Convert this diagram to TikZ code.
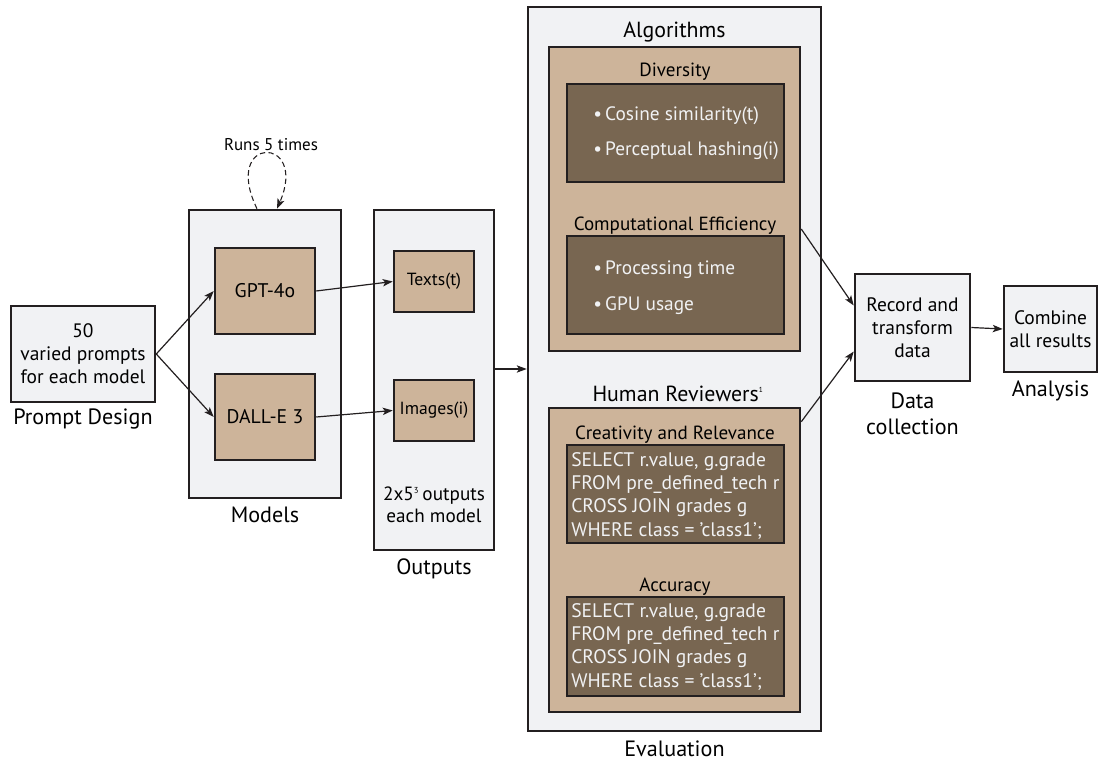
\documentclass[tikz,border=0pt]{standalone}
\usepackage{fontspec}
\setmainfont{PT Sans}
\usepackage{tikz}
\usetikzlibrary{shapes,arrows,arrows.meta,calc,positioning}
\definecolor{paneback}{HTML}{F1F2F4}
\definecolor{tanfill}{HTML}{CDB49A}
\definecolor{darkfill}{HTML}{786651}
\definecolor{inkline}{HTML}{231F20}
\newcommand{\bodyfont}{\fontsize{14.6}{17.25}\selectfont}
\newcommand{\capfont}{\fontsize{16.6}{19.5}\selectfont}
\newcommand{\headfont}{\fontsize{16.4}{18}\selectfont}
\newcommand{\subfont}{\fontsize{14.3}{17}\selectfont}
\tikzstyle{line} = [draw=inkline, -{Stealth[length=7.5pt,width=5.5pt,inset=1.8pt]}, line width=0.9pt]
\tikzstyle{panel} = [draw=inkline, fill=paneback, rectangle, line width=1.9pt, text centered]
\tikzstyle{block} = [draw=inkline, fill=tanfill, rectangle, line width=1.9pt, text centered]
\tikzstyle{inner} = [draw=inkline, fill=darkfill, rectangle, line width=1.9pt, minimum width=162.75pt]
\tikzstyle{caption} = [inner sep=0pt, anchor=base, text centered, font=\capfont]
\tikzstyle{heading} = [inner sep=0pt, anchor=base, font=\headfont]
\tikzstyle{listing} = [inner sep=0pt, anchor=base west, align=left, text=paneback]
\begin{document}
\begin{tikzpicture}[x=0.75pt, y=-0.75pt, node distance = 1.5cm]
        \useasboundingbox (0,0) rectangle (1100,763);
        % prompt and models
        \node[panel, minimum width=108pt, minimum height=72pt, align=center, font=\bodyfont] (prompt) at (83,354) {50\\varied prompts\\for each model};
        \node[panel, minimum width=114pt, minimum height=216pt] (models) at (265,354) {};
        \node[block, minimum width=75pt, minimum height=64.5pt, font=\fontsize{14.8}{17}\selectfont] (gpt) at (265,291) {GPT-4o};
        \node[block, minimum width=75pt, minimum height=64.5pt, font=\fontsize{14.8}{17}\selectfont] (dalle) at (265,417) {DALL-E 3};
        \node[heading, font=\fontsize{12.75}{15}\selectfont] (runs) at (271,151) {Runs 5 times};
        % outputs
        \node[panel, minimum width=90pt, minimum height=255pt] (outputs) at (434,380) {};
        \node[block, minimum width=60pt, minimum height=45.75pt, font=\fontsize{13.2}{15}\selectfont] (texts) at (434,281.5) {Texts(t)};
        \node[block, minimum width=60pt, minimum height=45.75pt, font=\fontsize{13.2}{15}\selectfont] (images) at (434,410.5) {Images(i)};
        \node[heading, align=center, font=\fontsize{14.4}{16.5}\selectfont] (count) at (434,522) {2x5\textsuperscript{\fontsize{6.5}{6.5}\selectfont 3}\,outputs\\each model};
        % evaluation
        \node[panel, minimum width=219.75pt, minimum height=543pt] (eval) at (674.5,369) {};
        \node[block, minimum width=188.25pt, minimum height=228pt] (algo) at (674.5,199) {};
        \node[inner, minimum height=73.5pt] (div) at (675.5,133) {};
        \node[inner, minimum height=73.5pt] (effic) at (675.5,285) {};
        \node[block, minimum width=188.25pt, minimum height=228pt] (review) at (674.5,560) {};
        \node[inner, minimum height=73.5pt] (creat) at (675.5,494) {};
        \node[inner, minimum height=74.25pt] (accur) at (675.5,646.5) {};
        \node[heading] at (674.5,38) {Algorithms};
        \node[heading, font=\subfont] at (675,77) {Diversity};
        \node[heading, font=\subfont] at (675,230) {Computational Efficiency};
        \node[heading] at (678,401) {Human Reviewers\textsuperscript{\fontsize{5.5}{5.5}\selectfont 1}};
        \node[heading, font=\subfont] at (675,439) {Creativity and Relevance};
        \node[heading, font=\subfont] at (675,591) {Accuracy};
        \node[listing, font=\fontsize{14.5}{26.5}\selectfont] at (593,156) {\textbullet\,Cosine similarity(t)\\\textbullet\,Perceptual hashing(i)};
        \node[listing, font=\fontsize{14.5}{27}\selectfont] at (593,310) {\textbullet\,Processing time\\\textbullet\,GPU usage};
        \node[listing, font=\fontsize{14.7}{17.5}\selectfont] at (571,536) {SELECT r.value, g.grade\\FROM pre\_defined\_tech r\\CROSS JOIN grades g\\WHERE class = 'class1';};
        \node[listing, font=\fontsize{14.7}{17.5}\selectfont] at (571,687) {SELECT r.value, g.grade\\FROM pre\_defined\_tech r\\CROSS JOIN grades g\\WHERE class = 'class1';};
        % data collection and analysis
        \node[panel, minimum width=86.25pt, minimum height=80.25pt, align=center, font=\bodyfont] (data) at (912.5,327.5) {Record and\\transform\\data};
        \node[panel, minimum width=69.75pt, minimum height=64.5pt, align=center, font=\bodyfont] (analysis) at (1050.5,329) {Combine\\all results};
        % captions
        \node[caption] at ($(prompt.south)+(0,21)$) {Prompt Design};
        \node[caption] at ($(models.south)+(0,23)$) {Models};
        \node[caption] at ($(outputs.south)+(0,23)$) {Outputs};
        \node[caption] at ($(eval.south)+(0,24)$) {Evaluation};
        \node[caption, align=center] at ($(data.south)+(0,52)$) {Data\\collection};
        \node[caption] at ($(analysis.south)+(0,23)$) {Analysis};
        % connectors
        \path[line] (prompt.east) -- (gpt.west);
        \path[line] (prompt.east) -- (dalle.west);
        \path[line] (gpt.east) -- (texts.west);
        \path[line] (dalle.east) -- (images.west);
        \path[line] (outputs.east |- eval.west) -- (eval.west);
        \path[line] ($(algo.east)+(0,30)$) -- ($(data.west)+(0,-22)$);
        \path[line] ($(review.north east)+(0,15)$) -- ($(data.west)+(0,24)$);
        \path[line] (data.east) -- (analysis.west);
        \path[line, dash pattern=on 4pt off 2.5pt, line width=0.8pt] ($(models.north)+(-8,0)$) .. controls +(-36,-74) and +(32,-74) .. ($(models.north)+(12,0)$);
    \end{tikzpicture}
\end{document}
